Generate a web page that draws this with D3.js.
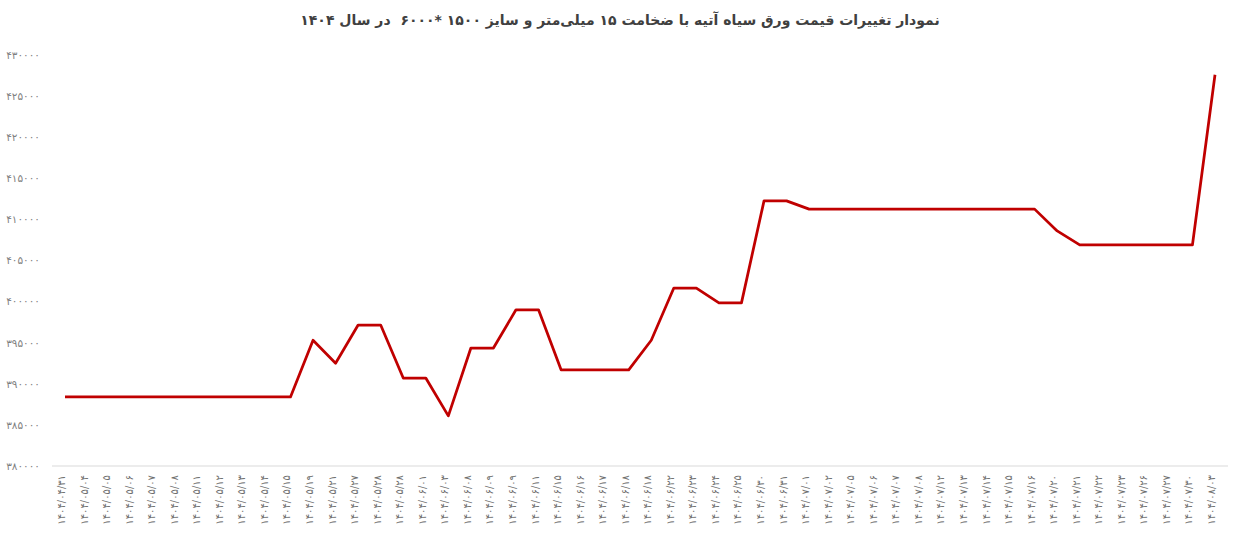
<!DOCTYPE html>
<meta charset="utf-8">
<script src="https://d3js.org/d3.v7.min.js"></script>
<style>
  body { margin: 0; background: #fff; }
  text { font-family: "DejaVu Sans", sans-serif; }
</style>
<div id="my_dataviz"></div>
<script>

// dates (Solar Hijri) and price in rial
var dates = ["1404/04/31","1404/05/04","1404/05/05","1404/05/06","1404/05/07","1404/05/08",
  "1404/05/11","1404/05/12","1404/05/13","1404/05/14","1404/05/15","1404/05/19","1404/05/21",
  "1404/05/27","1404/05/28","1404/05/28","1404/06/01","1404/06/03","1404/06/08","1404/06/09",
  "1404/06/09","1404/06/11","1404/06/15","1404/06/16","1404/06/17","1404/06/18","1404/06/18",
  "1404/06/22","1404/06/23","1404/06/24","1404/06/25","1404/06/30","1404/06/31","1404/07/01",
  "1404/07/02","1404/07/05","1404/07/06","1404/07/07","1404/07/08","1404/07/12","1404/07/13",
  "1404/07/14","1404/07/15","1404/07/16","1404/07/20","1404/07/21","1404/07/22","1404/07/23",
  "1404/07/26","1404/07/27","1404/07/30","1404/08/03"];

var prices = [388400,388400,388400,388400,388400,388400,388400,388400,388400,388400,388400,
  395300,392500,397150,397150,390700,390700,386100,394350,394350,399000,399000,391700,391700,
  391700,391700,395300,401650,401650,399850,399850,412250,412250,411250,411250,411250,411250,
  411250,411250,411250,411250,411250,411250,411250,408600,406900,406900,406900,406900,406900,
  406900,427600];

var yTicks = [380000,385000,390000,395000,400000,405000,410000,415000,420000,425000,430000];

var title = "نمودار تغییرات قیمت ورق سیاه آتیه با ضخامت ۱۵ میلی‌متر و سایز ۱۵۰۰ *۶۰۰۰  در سال ۱۴۰۴";

// latin digits -> persian digits
function fa(s) {
  return String(s).replace(/[0-9]/g, function(d) { return "۰۱۲۳۴۵۶۷۸۹"[+d]; });
}

var W = 1238, H = 543;
var margin = {top: 55, right: 10, bottom: 77, left: 52};
var width = W - margin.left - margin.right,
    height = H - margin.top - margin.bottom;

var svg = d3.select("#my_dataviz").append("svg")
    .attr("width", W)
    .attr("height", H);

var g = svg.append("g")
    .attr("transform", "translate(" + margin.left + "," + margin.top + ")");

var x = d3.scalePoint()
  .domain(d3.range(dates.length))
  .range([13, width - 13]);

var y = d3.scaleLinear()
  .domain([380000, 430000])
  .range([height, 0]);

// Y AXIS
var yAxis = g.append("g")
  .call(d3.axisLeft(y).tickValues(yTicks).tickSize(0).tickPadding(12).tickFormat(fa));
yAxis.select(".domain").remove();
yAxis.selectAll("text")
  .attr("fill", "#7f7f7f")
  .style("font-size", "10.5px");

// X AXIS
var xAxis = g.append("g")
  .attr("transform", "translate(0," + height + ")")
  .call(d3.axisBottom(x).tickSize(0).tickFormat(function(i) { return fa(dates[i]); }));
xAxis.select(".domain")
  .attr("stroke", "#d9d9d9")
  .attr("d", "M0,0H" + width);
xAxis.selectAll("text")
  .attr("fill", "#6f6f6f")
  .style("font-size", "10px")
  .attr("transform", "rotate(-90)")
  .attr("text-anchor", "end")
  .attr("x", -9)
  .attr("y", -4)
  .attr("dy", "0.35em");

// LINE
var line = d3.line()
  .x(function(d, i) { return x(i); })
  .y(function(d) { return y(d); });

g.append("path")
  .datum(prices)
  .attr("fill", "none")
  .attr("stroke", "#c00000")
  .attr("stroke-width", 2.75)
  .attr("stroke-linejoin", "round")
  .attr("d", line);

// TITLE
svg.append("text")
  .attr("x", 620)
  .attr("y", 25)
  .attr("text-anchor", "middle")
  .attr("direction", "rtl")
  .attr("fill", "#404040")
  .style("font-size", "14px")
  .style("font-weight", "bold")
  .style("white-space", "pre")
  .text(title);

</script>
